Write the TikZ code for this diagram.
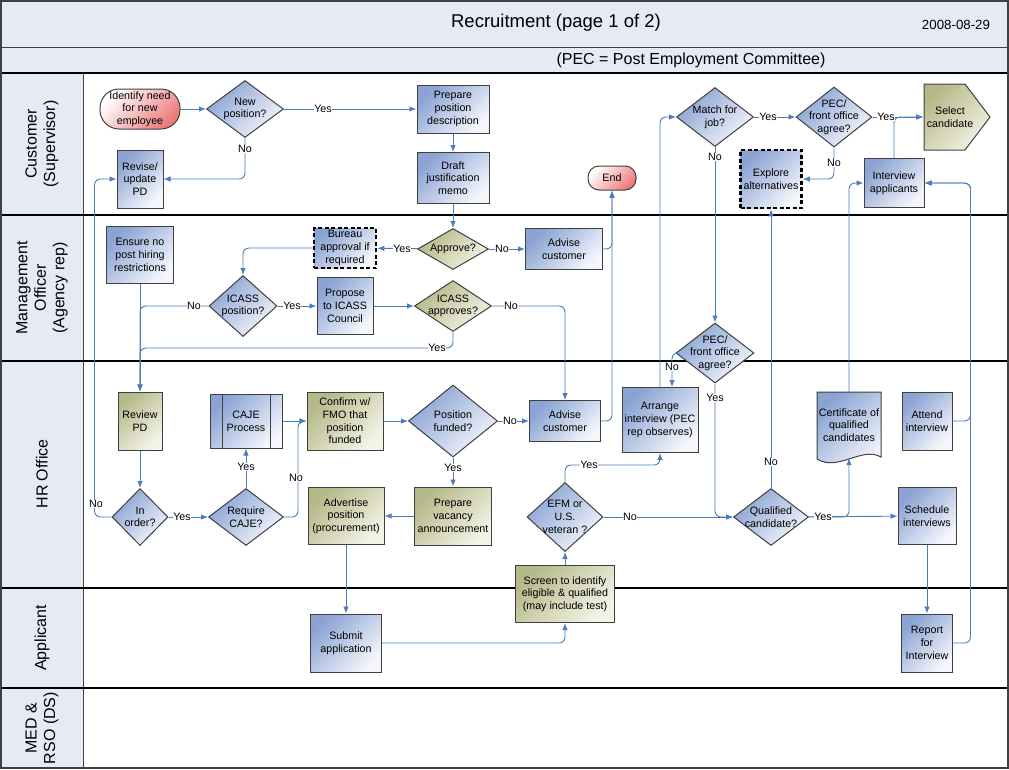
\documentclass[tikz,border=0pt]{standalone}
\usepackage{fontspec}
\setmainfont{Liberation Sans}
\usetikzlibrary{shapes.geometric}
\usetikzlibrary{arrows.meta}
\usetikzlibrary{calc}

\definecolor{band}{HTML}{E6EAF4}
\definecolor{rim}{HTML}{404040}
\definecolor{wire}{HTML}{4A7EBB}
\definecolor{bluetop}{HTML}{8AA3D3}
\definecolor{bluelow}{HTML}{F4F6FB}
\definecolor{olivetop}{HTML}{B5B888}
\definecolor{olivelow}{HTML}{F3F3E6}
\definecolor{redlow}{HTML}{EC7A7A}

\begin{document}
\begin{tikzpicture}
    [x=1pt, y=-1pt,
     txt/.style={font=\fontsize{10.7}{12.7}\selectfont, align=center},
     box/.style={txt, draw=rim, line width=1pt, inner sep=1pt,
       top color=bluetop, bottom color=bluelow, shading angle=45},
     obox/.style={box, top color=olivetop, bottom color=olivelow, shading angle=45},
     dbox/.style={box, draw=black, line width=2.6pt, dash pattern=on 4pt off 2.5pt},
     term/.style={box, top color=white, bottom color=redlow, shading angle=45},
     dec/.style={diamond, draw=rim, line width=1pt, inner sep=0pt,
       top color=bluetop, bottom color=bluelow, shading angle=45},
     odec/.style={dec, top color=olivetop, bottom color=olivelow, shading angle=45},
     flow/.style={draw=wire, line width=0.9pt, rounded corners=6pt,
       -{Latex[length=7pt, width=5.5pt]}},
     lab/.style={txt, fill=white, inner sep=0.5pt},
     lane/.style={font=\fontsize{16}{18.5}\selectfont, align=center, rotate=90}]
    \useasboundingbox (0,0) rectangle (1009,769);

    % header and lanes
    \fill[band] (0,0) rectangle (1009,73);
    \fill[band] (0,73) rectangle (83,769);
    \draw[rim, line width=1pt] (0,47) -- (1009,47);
    \draw[black, line width=1.4pt] (0,73) -- (1009,73);
    \draw[rim, line width=1pt] (83,73) -- (83,769);
    \foreach \y in {215,361,588,688}
      \draw[black, line width=1.4pt] (0,\y) -- (1009,\y);
    \draw[rim, line width=1.6pt] (0.8,0.8) rectangle (1008.2,768.2);

    \node[font=\fontsize{18.5}{22}\selectfont] (title) at (556,23) {Recruitment (page 1 of 2)};
    \node[font=\fontsize{13.3}{16}\selectfont] (date) at (956,25) {2008-08-29};
    \node[font=\fontsize{16}{19}\selectfont] (note) at (691,60) {(PEC = Post Employment Committee)};

    \node[lane] (cust) at (42,144) {Customer\\(Supervisor)};
    \node[lane] (mgmt) at (42,288) {Management\\Officer\\(Agency rep)};
    \node[lane] (hr) at (42,474) {HR Office};
    \node[lane] (appl) at (42,638) {Applicant};
    \node[lane] (medrso) at (42,728) {MED \&\\RSO (DS)};

    % customer
    \node[term, rounded corners=19pt, minimum width=80, minimum height=40] (start) at (140,109) {Identify need\\for new\\employee};
    \node[dec, minimum width=77, minimum height=57] (newpos) at (245,109) {};
    \node[txt] (newpost) at (newpos) {New\\position?};
    \node[box, minimum width=72, minimum height=48] (prep) at (453,109) {Prepare\\position\\description};
    \node[box, minimum width=72, minimum height=51] (draft) at (453,178) {Draft\\justification\\memo};
    \node[term, rounded corners=11pt, minimum width=48, minimum height=24] (endn) at (612,178) {End};
    \node[box, minimum width=46, minimum height=58] (revise) at (140,179) {Revise/\\update\\PD};
    \node[dec, minimum width=77, minimum height=59] (match) at (715,117) {};
    \node[txt] (matcht) at (match) {Match for\\job?};
    \node[dec, minimum width=76, minimum height=60] (pec1) at (834,117) {};
    \node[txt] (pec1t) at (pec1) {PEC/\\front office\\agree?};
    \path[draw=rim, line width=1pt, top color=olivetop, bottom color=olivelow, shading angle=45]
      (924,84) -- (965,84) -- (990,117) -- (965,150) -- (924,150) -- cycle;
    \node[txt, minimum width=52, minimum height=66] (select) at (950,117) {Select\\candidate};
    \node[dbox, minimum width=61, minimum height=58] (explore) at (771,179) {Explore\\alternatives};
    \node[box, minimum width=60, minimum height=49] (intv) at (894,183) {Interview\\applicants};

    % management officer
    \node[box, minimum width=67, minimum height=57] (ensure) at (140,255) {Ensure no\\post hiring\\restrictions};
    \node[dbox, minimum width=62, minimum height=40] (bureau) at (345,248) {Bureau\\approval if\\required};
    \node[odec, minimum width=71, minimum height=41] (approve) at (453,249) {};
    \node[txt] (approvet) at (approve) {Approve?};
    \node[box, minimum width=77, minimum height=41] (advise1) at (564,249) {Advise\\customer};
    \node[dec, minimum width=68, minimum height=61] (icasspos) at (243,306) {};
    \node[txt] (icassposT) at (icasspos) {ICASS\\position?};
    \node[box, minimum width=56, minimum height=57] (propose) at (345,306) {Propose\\to ICASS\\Council};
    \node[odec, minimum width=77, minimum height=51] (icassapp) at (453,306) {};
    \node[txt] (icassappt) at (icassapp) {ICASS\\approves?};

    % hr office
    \node[obox, minimum width=44, minimum height=58] (review) at (140,421) {Review\\PD};
    \node[dec, minimum width=56, minimum height=57] (inorder) at (140,517) {};
    \node[txt] (inordert) at (inorder) {In\\order?};
    \node[dec, minimum width=75, minimum height=57] (reqcaje) at (246,517) {};
    \node[txt] (reqcajet) at (reqcaje) {Require\\CAJE?};
    \node[box, minimum width=72, minimum height=54] (caje) at (246,421) {CAJE\\Process};
    \draw[rim, line width=1pt] ($(caje.north west)+(13,0)$) -- ($(caje.south west)+(13,0)$);
    \draw[rim, line width=1pt] ($(caje.north east)+(-12,0)$) -- ($(caje.south east)+(-12,0)$);
    \node[obox, minimum width=76, minimum height=58] (confirm) at (345,421) {Confirm w/\\FMO that\\position\\funded};
    \node[dec, minimum width=89, minimum height=72] (posfund) at (453,421) {};
    \node[txt] (posfundt) at (posfund) {Position\\funded?};
    \node[box, minimum width=71, minimum height=41] (advise2) at (565,421) {Advise\\customer};
    \node[obox, minimum width=77, minimum height=58] (vacancy) at (453,516) {Prepare\\vacancy\\announcement};
    \node[obox, minimum width=76, minimum height=57] (advert) at (346,516) {Advertise\\position\\(procurement)};
    \node[dec, minimum width=76, minimum height=69] (efm) at (565,517) {};
    \node[txt] (efmt) at (efm) {EFM or\\U.S.\\veteran ?};
    \node[box, minimum width=76, minimum height=65] (arrange) at (660,420) {Arrange\\interview (PEC\\rep observes)};
    \node[dec, minimum width=78, minimum height=60] (pec2) at (715,353) {};
    \node[txt] (pec2t) at (pec2) {PEC/\\front office\\agree?};
    \node[dec, minimum width=75, minimum height=57] (qual) at (771,517) {};
    \node[txt] (qualt) at (qual) {Qualified\\candidate?};
    \path[draw=rim, line width=1pt, top color=bluetop, bottom color=bluelow, shading angle=45]
      (817,392) -- (881,392) -- (881,457) .. controls (862,446) and (838,472) .. (817,459) -- cycle;
    \node[txt, minimum width=64, minimum height=66] (cert) at (849,425) {Certificate of\\qualified\\candidates};
    \node[box, minimum width=50, minimum height=58] (attend) at (927,421) {Attend\\interview};
    \node[box, minimum width=58, minimum height=57] (sched) at (927,516) {Schedule\\interviews};
    \node[obox, minimum width=99, minimum height=57] (screen) at (565,594) {Screen to identify\\eligible \& qualified\\(may include test)};

    % applicant
    \node[box, minimum width=71, minimum height=58] (submit) at (346,643) {Submit\\application};
    \node[box, minimum width=51, minimum height=58] (report) at (927,643) {Report\\for\\Interview};

    % connectors
    \draw[flow] (start) -- (newpos);
    \draw[flow] (newpos) -- (prep);
    \draw[flow] (newpos) |- (revise);
    \draw[flow] (prep) -- (draft);
    \draw[flow] (draft) -- (approve);
    \draw[flow] (approve) -- (bureau);
    \draw[flow] (approve) -- (advise1);
    \draw[flow] (advise1) -| (endn);
    \draw[flow] (bureau) -| (icasspos);
    \draw[flow] (icasspos) -- (propose);
    \draw[flow] (propose) -- (icassapp);
    \draw[flow] (icasspos) -| (review);
    \draw[flow] (ensure) -- (review);
    \draw[flow] (icassapp.south) -- ++(0,16) -| (review);
    \draw[flow] (icassapp) -| (advise2);
    \draw[flow] (match) -- (pec2);
    \draw[flow] (match) -- (pec1);
    \draw[flow] (pec1) |- (explore);
    \draw[flow] (pec1) -- (select);
    \draw[flow] (intv) |- (select);
    \draw[flow] (arrange) |- (match);
    \draw[flow] (pec2) -| ($(arrange.north)+(12,0)$);
    \draw[flow] (pec2) |- (qual);
    \draw[flow] (qual) -- (explore);
    \draw[flow] (qual) -- (sched);
    \draw[flow] (qual) -| (cert.south);
    \draw[flow] (cert) |- (intv);
    \draw[flow] (attend) -| ($(intv.east)+(46,0)$) -- (intv);
    \draw[flow] (report) -| ($(intv.east)+(46,0)$) -- (intv);
    \draw[flow] (sched) -- (report);
    \draw[flow] (review) -- (inorder);
    \draw[flow] (inorder.west) -- ++(-17,0) |- (revise);
    \draw[flow] (inorder) -- (reqcaje);
    \draw[flow] (reqcaje) -- (caje);
    \draw[flow] (caje) -- (confirm);
    \draw[flow] (reqcaje.east) -- ++(14,0) |- (confirm);
    \draw[flow] (confirm) -- (posfund);
    \draw[flow] (posfund) -- (advise2);
    \draw[flow] (advise2) -| (endn);
    \draw[flow] (posfund) -- (vacancy);
    \draw[flow] (vacancy) -- (advert);
    \draw[flow] (advert) -- (submit);
    \draw[flow] (submit) -| (screen);
    \draw[flow] (screen) -- (efm);
    \draw[flow] (efm.north) -- ++(0,-17) -| (arrange);
    \draw[flow] (efm) -- (qual);

    % yes / no labels
    \node[lab] (l1) at (323,109) {Yes};
    \node[lab] (l2) at (245,149) {No};
    \node[lab] (l3) at (402,249) {Yes};
    \node[lab] (l4) at (502,249) {No};
    \node[lab] (l5) at (292,306) {Yes};
    \node[lab] (l6) at (194,306) {No};
    \node[lab] (l7) at (511,306) {No};
    \node[lab] (l8) at (437,348) {Yes};
    \node[lab] (l9) at (715,157) {No};
    \node[lab] (l10) at (768,117) {Yes};
    \node[lab] (l11) at (834,163) {No};
    \node[lab] (l12) at (886,117) {Yes};
    \node[lab] (l13) at (672,367) {No};
    \node[lab] (l14) at (715,398) {Yes};
    \node[lab] (l15) at (771,462) {No};
    \node[lab] (l16) at (823,517) {Yes};
    \node[lab] (l17) at (96,504) {No};
    \node[lab] (l18) at (182,517) {Yes};
    \node[lab] (l19) at (246,467) {Yes};
    \node[lab] (l20) at (296,478) {No};
    \node[lab] (l21) at (510,421) {No};
    \node[lab] (l22) at (453,468) {Yes};
    \node[lab] (l23) at (589,465) {Yes};
    \node[lab] (l24) at (630,517) {No};

  \end{tikzpicture}
\end{document}
